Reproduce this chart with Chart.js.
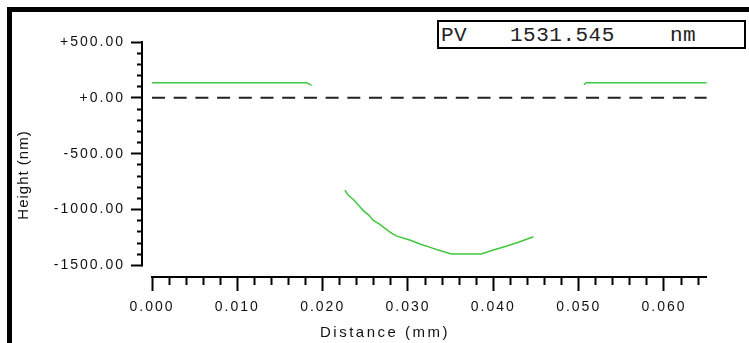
<!DOCTYPE html>
<html>
<head>
<meta charset="utf-8">
<script src="https://cdn.jsdelivr.net/npm/chart.js@4.4.1/dist/chart.umd.min.js"></script>
<style>
  html, body { margin: 0; padding: 0; background: #fff; }
  .wrap { position: relative; width: 749px; height: 343px; overflow: hidden; }
  .frame {
    position: absolute; left: 7px; top: 7px; right: -20px; bottom: -20px;
    border-left: 5px solid #000; border-top: 5px solid #000;
  }
  #profile { position: absolute; left: 0; top: 0; }
  .pv {
    position: absolute; left: 437px; top: 20px; width: 305px; height: 25px;
    border: 2px solid #000; background: #fff;
    font-family: 'Liberation Mono', 'Courier New', monospace; font-size: 21px; color: #222;
    letter-spacing: 0.5px;
  }
  .pv span { position: absolute; top: 1px; line-height: 25px; }
</style>
</head>
<body>
<div class="wrap">
  <div class="frame"></div>
  <canvas id="profile" width="749" height="343"></canvas>
  <div class="pv"><span style="left:2px">PV</span><span style="left:71px">1531.545</span><span style="left:231px">nm</span></div>
</div>
<script>
// profile trace, mm / nm (null = no data)
const distance = [0.0000, 0.0181, 0.0187, 0.0205,
    0.0226, 0.0230, 0.0236, 0.0242, 0.0248, 0.0254, 0.0259, 0.0267, 0.0273, 0.0281, 0.0287,
    0.0302, 0.0314, 0.0326, 0.0338, 0.0351, 0.0386, 0.0400, 0.0416, 0.0431, 0.0447,
    0.0477, 0.0506, 0.0509, 0.0650];
const height = [136, 136, 112, null,
    -826, -871, -909, -960, -1011, -1049, -1094, -1133, -1168, -1213, -1237,
    -1272, -1308, -1338, -1368, -1397, -1397, -1362, -1326, -1288, -1243,
    null, 118, 136, 136];

// zero reference line
const zeroX = [0, 0.065];
const zeroY = [0, 0];

// axis ticks
const xMajorTicks = [0, 0.01, 0.02, 0.03, 0.04, 0.05, 0.06];
const xTickLabels = ['0.000', '0.010', '0.020', '0.030', '0.040', '0.050', '0.060'];
const yMajorTicks = [500, 0, -500, -1000, -1500];
const yTickLabels = ['+500.00', '+0.00', '-500.00', '-1000.00', '-1500.00'];

const xMinor = [];
for (let i = 0; i <= 32; i++) xMinor.push(i * 2 / 1000);
const yMinor = [];
for (let v = -1500; v <= 500; v += 100) yMinor.push(v);

const tickFont = { family: 'Liberation Sans', size: 14 };

const profileAxes = {
    id: 'profileAxes',
    beforeDraw(chart) {
        chart.ctx.letterSpacing = '2px';
    },
    afterDraw(chart) {
        const { ctx, scales: { x, y } } = chart;
        ctx.save();
        ctx.strokeStyle = '#000';
        ctx.lineWidth = 2;
        ctx.beginPath();
        ctx.moveTo(y.right, y.getPixelForValue(500) - 1);
        ctx.lineTo(y.right, y.getPixelForValue(-1500) + 1);
        ctx.moveTo(x.getPixelForValue(0) - 1, x.top);
        ctx.lineTo(x.right, x.top);
        ctx.stroke();

        ctx.fillStyle = '#111';
        ctx.textAlign = 'center';
        ctx.textBaseline = 'middle';
        ctx.font = '15px "Liberation Sans"';
        ctx.letterSpacing = '2.5px';
        ctx.fillText('Distance (mm)', 385, 333);

        ctx.letterSpacing = '1px';
        ctx.translate(24, 175);
        ctx.rotate(-Math.PI / 2);
        ctx.fillText('Height (nm)', 0, 0);
        ctx.restore();
    }
};

new Chart(document.getElementById('profile'), {
    type: 'scatter',
    data: {
        datasets: [{
            data: distance.map((d, i) => ({ x: d, y: height[i] })),
            showLine: true,
            spanGaps: false,
            borderColor: '#3fc83f',
            borderWidth: 1.5,
            pointRadius: 0,
            tension: 0
        }, {
            data: zeroX.map((d, i) => ({ x: d, y: zeroY[i] })),
            showLine: true,
            borderColor: '#222',
            borderWidth: 2,
            borderDash: [13, 8.7],
            pointRadius: 0
        }]
    },
    options: {
        responsive: false,
        animation: false,
        devicePixelRatio: 1,
        layout: { padding: { left: 0, top: 42, right: 42, bottom: 0 } },
        plugins: { legend: { display: false }, tooltip: { enabled: false } },
        scales: {
            x: {
                type: 'linear',
                min: -0.001172,
                max: 0.06504,
                afterBuildTicks: s => { s.ticks = xMinor.map(v => ({ value: v })); },
                afterFit: s => { s.height = 66; },
                border: { display: false },
                grid: {
                    drawOnChartArea: false,
                    tickLength: 14,
                    tickWidth: 2,
                    tickColor: '#000',
                    tickBorderDash: c => (c.tick && !xMajorTicks.includes(c.tick.value)) ? [8, 30] : []
                },
                ticks: {
                    autoSkip: false,
                    maxRotation: 0,
                    minRotation: 0,
                    padding: 8,
                    color: '#111',
                    font: tickFont,
                    callback: v => {
                        const i = xMajorTicks.indexOf(v);
                        return i >= 0 ? xTickLabels[i] : '';
                    }
                }
            },
            y: {
                type: 'linear',
                min: -1603,
                max: 500,
                afterBuildTicks: s => { s.ticks = yMinor.map(v => ({ value: v })); },
                afterFit: s => { s.width = 142; },
                border: { display: false },
                grid: {
                    drawOnChartArea: false,
                    tickLength: 11,
                    tickWidth: 2,
                    tickColor: '#000',
                    tickBorderDash: c => (c.tick && !yMajorTicks.includes(c.tick.value)) ? [0, 6, 20] : []
                },
                ticks: {
                    autoSkip: false,
                    padding: 6,
                    color: '#111',
                    font: tickFont,
                    callback: v => {
                        const i = yMajorTicks.indexOf(v);
                        return i >= 0 ? yTickLabels[i] : '';
                    }
                }
            }
        }
    },
    plugins: [profileAxes]
});
</script>
</body>
</html>
